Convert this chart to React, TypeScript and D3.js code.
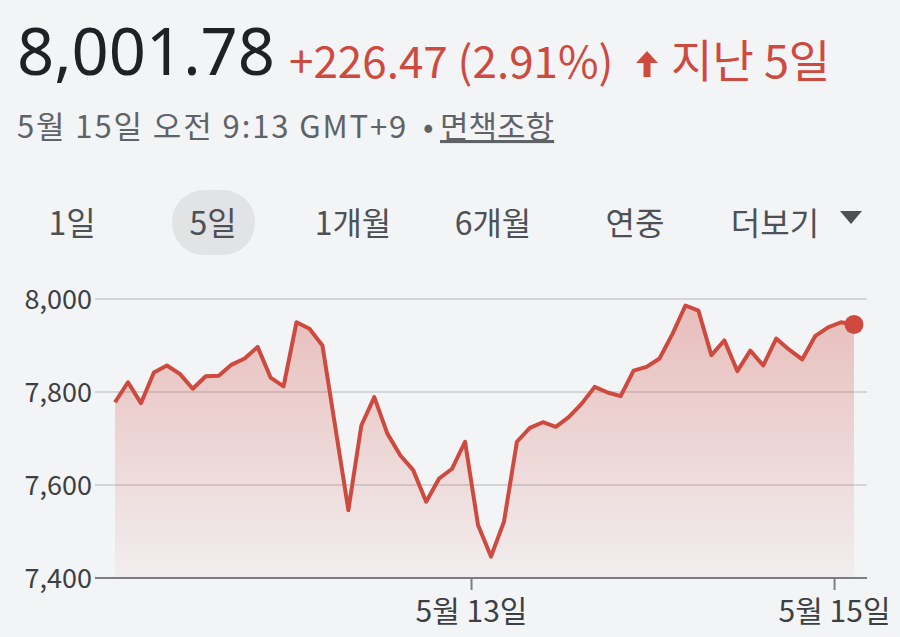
import * as React from "react";
import * as d3 from "d3";

// 5-day intraday values (one point every ~30 min)
const prices = [
  7778, 7821, 7776, 7842, 7857, 7839, 7807, 7834, 7835, 7859, 7872, 7897, 7831, 7812,
  7950, 7936, 7900, 7723, 7546, 7728, 7789, 7711, 7664, 7632, 7564, 7614, 7635, 7693,
  7514, 7446, 7521, 7693, 7723, 7735, 7725, 7746, 7775, 7811, 7799, 7791, 7846, 7854,
  7872, 7925, 7986, 7975, 7879, 7911, 7845, 7889, 7857, 7915, 7891, 7870, 7920, 7939,
  7950, 7945,
];
const yTicks = [7400, 7600, 7800, 8000];
const xTickLabels = ["5월 13일", "5월 15일"];
const xTickIndex = [27.5, 55.5];
const tabs = ["1일", "5일", "1개월", "6개월", "연중", "더보기"];
const tabCenters = [72, 213, 353, 493, 635, 775];

const FONT = "'Noto Sans CJK KR', 'Noto Sans', sans-serif";
const RED = "#cf4a3e";

export default function App() {
  const W = 900;
  const H = 637;
  const x = d3.scaleLinear().domain([0, prices.length - 1]).range([115, 854]);
  const y = d3.scaleLinear().domain([7400, 8000]).range([578, 299]);

  const line = d3.line<number>().x((d, i) => x(i)).y(d => y(d));
  const area = d3.area<number>().x((d, i) => x(i)).y0(y(7400)).y1(d => y(d));
  const last = prices.length - 1;

  return (
    <svg width={W} height={H} style={{ position: "absolute", left: 0, top: 0, background: "#f3f4f6" }}
      fontFamily={FONT}>
      <defs>
        <linearGradient id="fillGrad" x1="0" y1="0" x2="0" y2="1">
          <stop offset="0%" stopColor={RED} stopOpacity={0.32} />
          <stop offset="100%" stopColor={RED} stopOpacity={0.04} />
        </linearGradient>
      </defs>
      <rect width={W} height={H} fill="#f3f4f6" />

      {/* header */}
      <text x={17} y={75} fontSize={65} fontFamily="'Noto Sans', sans-serif" fill="#202124">8,001.78</text>
      <text x={289} y={78} fontSize={44} fill={RED}>+226.47 (2.91%)</text>
      <path d="M 647 51 L 658 63 L 650.5 63 L 650.5 77 L 643.5 77 L 643.5 63 L 636 63 Z" fill={RED} />
      <text x={671} y={78} fontSize={45} fill={RED}>지난 5일</text>
      <text x={17} y={138} fontSize={31} letterSpacing={1.9} fill="#5f6368">5월 15일 오전 9:13 GMT+9</text>
      <text x={423} y={138} fontSize={31} fill="#5f6368">•</text>
      <text x={440} y={138} fontSize={31} fill="#5f6368" textDecoration="underline">면책조항</text>

      {/* range tabs */}
      <rect x={172} y={190} width={83} height={65} rx={32} fill="#e2e3e5" />
      {tabs.map((t, i) => (
        <text key={t} x={tabCenters[i]} y={235} fontSize={32} textAnchor="middle" fill="#4d5156">{t}</text>
      ))}
      <path d="M 840 211 L 862 211 L 851 224 Z" fill="#4d5156" />

      {/* grid */}
      {yTicks.map(v => (
        <g key={v}>
          <line x1={95} x2={867} y1={y(v)} y2={y(v)} stroke={v === 7400 ? "#7b7e82" : "#d3d5d8"} strokeWidth={2} />
          <text x={92} y={y(v) + 10} fontSize={27} textAnchor="end" fill="#3c4043">{d3.format(",")(v)}</text>
        </g>
      ))}

      {/* series */}
      <path d={area(prices) || ""} fill="url(#fillGrad)" />
      <path d={line(prices) || ""} fill="none" stroke={RED} strokeWidth={4} strokeLinejoin="round" />
      <circle cx={x(last)} cy={y(prices[last])} r={9.5} fill={RED} />

      {/* x ticks */}
      {xTickIndex.map((ix, i) => (
        <g key={ix}>
          <line x1={x(ix)} x2={x(ix)} y1={y(7400)} y2={y(7400) + 12} stroke="#7b7e82" strokeWidth={2} />
          <text x={x(ix)} y={622} fontSize={30} textAnchor="middle" fill="#3c4043">{xTickLabels[i]}</text>
        </g>
      ))}
    </svg>
  );
}
